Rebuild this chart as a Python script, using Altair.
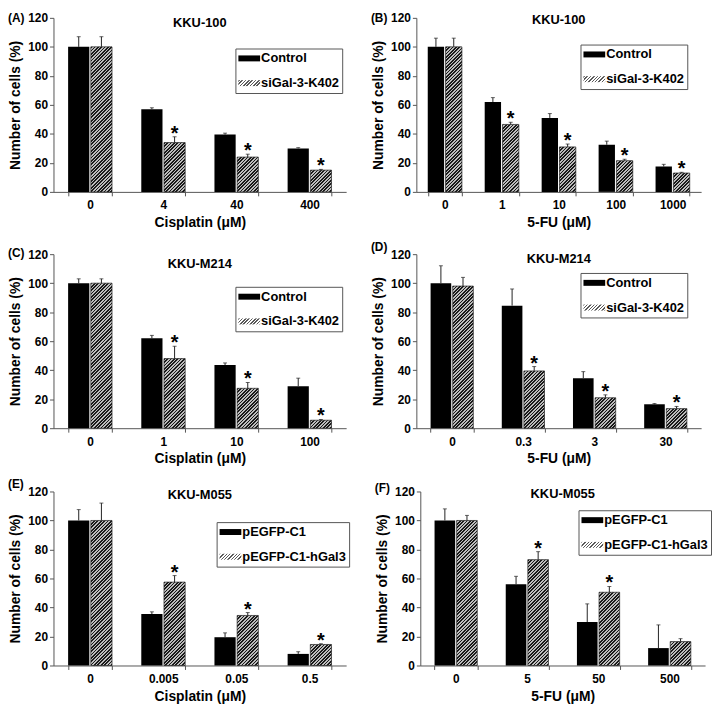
import altair as alt
import pandas as pd

FONT = "Liberation Sans"

# ---------------- data ----------------
tags = ["(A)", "(B)", "(C)", "(D)", "(E)", "(F)"]
titles = ["KKU-100", "KKU-100", "KKU-M214", "KKU-M214", "KKU-M055", "KKU-M055"]
x_titles = ["Cisplatin (μM)", "5-FU (μM)", "Cisplatin (μM)", "5-FU (μM)",
            "Cisplatin (μM)", "5-FU (μM)"]
series_si = ["Control", "siGal-3-K402"]
series_oe = ["pEGFP-C1", "pEGFP-C1-hGal3"]
y_ticks = [0, 20, 40, 60, 80, 100, 120]

doses_a = ["0", "4", "40", "400"]
ctrl_a = [100, 57, 39.5, 30]
ctrl_err_a = [7, 1, 1, 0.5]
trt_a = [100, 34, 24, 15]
trt_err_a = [7, 4, 2, 0.5]
sig_a = [False, True, True, True]

doses_b = ["0", "1", "10", "100", "1000"]
ctrl_b = [100, 62, 51, 32.5, 17.5]
ctrl_err_b = [6, 3, 3, 2.5, 1.5]
trt_b = [100, 46.5, 31, 21.5, 13]
trt_err_b = [6, 1.5, 2, 1, 0.5]
sig_b = [False, True, True, True, True]

doses_c = ["0", "1", "10", "100"]
ctrl_c = [100, 62, 43.5, 29]
ctrl_err_c = [3, 2, 1.5, 5.5]
trt_c = [100, 48, 27.5, 5.5]
trt_err_c = [3, 8.5, 4, 0.5]
sig_c = [False, True, True, True]

doses_d = ["0", "0.3", "3", "30"]
ctrl_d = [100, 84.5, 34.5, 16.5]
ctrl_err_d = [12, 11.5, 4.5, 0.5]
trt_d = [98, 39.5, 21, 13.5]
trt_err_d = [6, 3, 2, 1.5]
sig_d = [False, True, True, True]

doses_e = ["0", "0.005", "0.05", "0.5"]
ctrl_e = [100, 35.5, 19.5, 8]
ctrl_err_e = [7.5, 1.5, 3, 1.5]
trt_e = [100, 57.5, 34.5, 14.5]
trt_err_e = [12, 4.5, 2, 0.5]
sig_e = [False, True, True, True]

doses_f = ["0", "5", "50", "500"]
ctrl_f = [100, 56, 30, 12]
ctrl_err_f = [8, 5.5, 12.5, 16]
trt_f = [100, 73, 50.5, 16.5]
trt_err_f = [3.5, 5.5, 4, 2]
sig_f = [False, True, True, False]

# ---------------- layout / style ----------------
W_L, W_R, H = 296, 288, 176
Y_MAX = 120
L_GRAD = 210.0
N_STRIPES = 62
GROUP_FRAC = 0.6     # fraction of each dose slot covered by the pair of bars
BAR_GAP = 1.5        # px between the two bars of a pair


def stops_js(dark, light, duty):
    parts = []
    for i in range(N_STRIPES):
        a = i / N_STRIPES
        b = (i + duty) / N_STRIPES
        c = (i + 1) / N_STRIPES
        parts += [
            f"{{offset:{a:.4f},color:'{dark}'}}",
            f"{{offset:{b:.4f},color:'{dark}'}}",
            f"{{offset:{b:.4f},color:'{light}'}}",
            f"{{offset:{c:.4f},color:'{light}'}}",
        ]
    return "[" + ",".join(parts) + "]"


BAR_STOPS = stops_js("#1a1a1a", "#bdbdbd", 0.5)
LEG_STOPS = stops_js("#5a5a5a", "#ffffff", 0.45)


def bar_grad_expr(w):
    s = H / Y_MAX
    h = f"(datum.value*{s:.5f})"
    den = f"({w * w:.4f}+{h}*{h})"
    return (f"{{gradient:'linear',x1:0,y1:0,x2:{L_GRAD}*{w:.4f}/{den},"
            f"y2:{L_GRAD}*{h}/{den},stops:{BAR_STOPS}}}")


def legend_grad_expr():
    w, h = 22.0, 6.0
    den = w * w + h * h
    return (f"{{gradient:'linear',x1:0,y1:0,x2:{L_GRAD * w / den:.4f},"
            f"y2:{L_GRAD * h / den:.4f},stops:{LEG_STOPS}}}")


SYMBOL_PATH = "M-1,-0.43H2.14V0.43H-1Z"


def y_enc(field):
    return alt.Y(field, scale=alt.Scale(domain=[0, Y_MAX], nice=False),
                 axis=alt.Axis(values=y_ticks, title="Number of cells (%)",
                               labelPadding=2, titlePadding=5, labelOverlap=False))


def panel(i, names, doses, ctrl, ctrl_err, trt, trt_err, sig, W,
          legend_x, legend_y, tag_y, title_y):
    rows = []
    for k, d in enumerate(doses):
        rows.append(dict(dose=d, group=names[0], value=ctrl[k],
                         top=ctrl[k] + ctrl_err[k], star=""))
        rows.append(dict(dose=d, group=names[1], value=trt[k],
                         top=trt[k] + trt_err[k], star="*" if sig[k] else ""))
    df = pd.DataFrame(rows)
    n = len(doses)
    bar_w = (W / n * GROUP_FRAC - BAR_GAP) / 2
    shift = (bar_w + BAR_GAP) / 2

    x = alt.X("dose:N", sort=doses,
              scale=alt.Scale(paddingInner=0.4, paddingOuter=0.2),
              axis=alt.Axis(title=x_titles[i], labelAngle=0, tickBand="extent",
                            labelPadding=4, titlePadding=5))

    base = alt.Chart(df)
    ctrl_df = base.transform_filter(alt.datum.group == names[0])
    trt_df = base.transform_filter(alt.datum.group == names[1])

    ctrl_bars = ctrl_df.mark_bar(width=bar_w, xOffset=-shift).encode(
        x=x, y=y_enc("value:Q"),
        color=alt.Color(
            "group:N",
            scale=alt.Scale(domain=names,
                            range=["black", alt.ExprRef(legend_grad_expr())]),
            legend=alt.Legend(
                title=None, orient="none", legendX=legend_x, legendY=legend_y,
                direction="vertical", strokeColor="#555", fillColor="white",
                padding=3, symbolType=SYMBOL_PATH, symbolSize=196,
                symbolStrokeWidth=0, symbolOpacity=1, labelFont=FONT,
                labelFontSize=13, labelFontWeight="bold", labelColor="black",
                labelOffset=9, rowPadding=11, labelLimit=0)),
    )
    trt_bars = trt_df.transform_calculate(
        grad=bar_grad_expr(bar_w)
    ).mark_bar(width=bar_w, xOffset=shift, stroke="#222", strokeWidth=0.7).encode(
        x=x, y=y_enc("value:Q"),
        fill=alt.Fill("grad:N", scale=None),
    )

    layers = [ctrl_bars, trt_bars]
    for src, dx in ((ctrl_df, -shift), (trt_df, shift)):
        layers.append(src.mark_rule(color="#222", strokeWidth=1, xOffset=dx).encode(
            x=x, y=y_enc("value:Q"), y2="top:Q"))
        layers.append(src.mark_tick(color="#222", thickness=1, size=4, xOffset=dx).encode(
            x=x, y=y_enc("top:Q")))
    layers.append(trt_df.mark_text(font=FONT, fontSize=20, fontWeight="bold",
                                   baseline="alphabetic", dy=3, xOffset=shift,
                                   color="black").encode(
        x=x, y=y_enc("top:Q"), text="star:N"))

    layers.append(alt.Chart(pd.DataFrame({"label": [titles[i]]})).mark_text(
        font=FONT, fontSize=13, fontWeight="bold", baseline="middle",
        align="center", color="black").encode(
        x=alt.value(W / 2), y=alt.value(title_y), text="label:N"))
    layers.append(alt.Chart(pd.DataFrame({"label": [tags[i]]})).mark_text(
        font=FONT, fontSize=12, fontWeight="bold", baseline="middle",
        align="left", color="black").encode(
        x=alt.value(-46), y=alt.value(tag_y), text="label:N"))

    return alt.layer(*layers).properties(width=W, height=H)


pa = panel(0, series_si, doses_a, ctrl_a, ctrl_err_a, trt_a, trt_err_a, sig_a,
           W_L, 184, 31, 0, 5)
pb = panel(1, series_si, doses_b, ctrl_b, ctrl_err_b, trt_b, trt_err_b, sig_b,
           W_R, 166, 27, 0, 2)
pc = panel(2, series_si, doses_c, ctrl_c, ctrl_err_c, trt_c, trt_err_c, sig_c,
           W_L, 184, 33, -1, 10)
pd_ = panel(3, series_si, doses_d, ctrl_d, ctrl_err_d, trt_d, trt_err_d, sig_d,
            W_R, 166, 19, -7, 5)
pe = panel(4, series_oe, doses_e, ctrl_e, ctrl_err_e, trt_e, trt_err_e, sig_e,
           W_L, 165, 31, -8, 4)
pf = panel(5, series_oe, doses_f, ctrl_f, ctrl_err_f, trt_f, trt_err_f, sig_f,
           W_R, 160, 19, -3, 3)

rows = [alt.hconcat(a, b, spacing=25).resolve_scale(color="independent")
        for a, b in [(pa, pb), (pc, pd_), (pe, pf)]]

chart = alt.vconcat(*rows, spacing=12).resolve_scale(
    color="independent"
).properties(
    padding={"left": 0, "top": 0, "right": 0, "bottom": 0},
    background="white",
).configure_view(stroke=None).configure_axis(
    labelFont=FONT, labelFontSize=12, labelFontWeight="bold", labelColor="black",
    titleFont=FONT, titleFontSize=14, titleFontWeight="bold", titleColor="black",
    domainColor="#555", tickColor="#555", tickSize=4, grid=False,
)

chart.save("out.html", embed_options={"renderer": "svg", "actions": False})
